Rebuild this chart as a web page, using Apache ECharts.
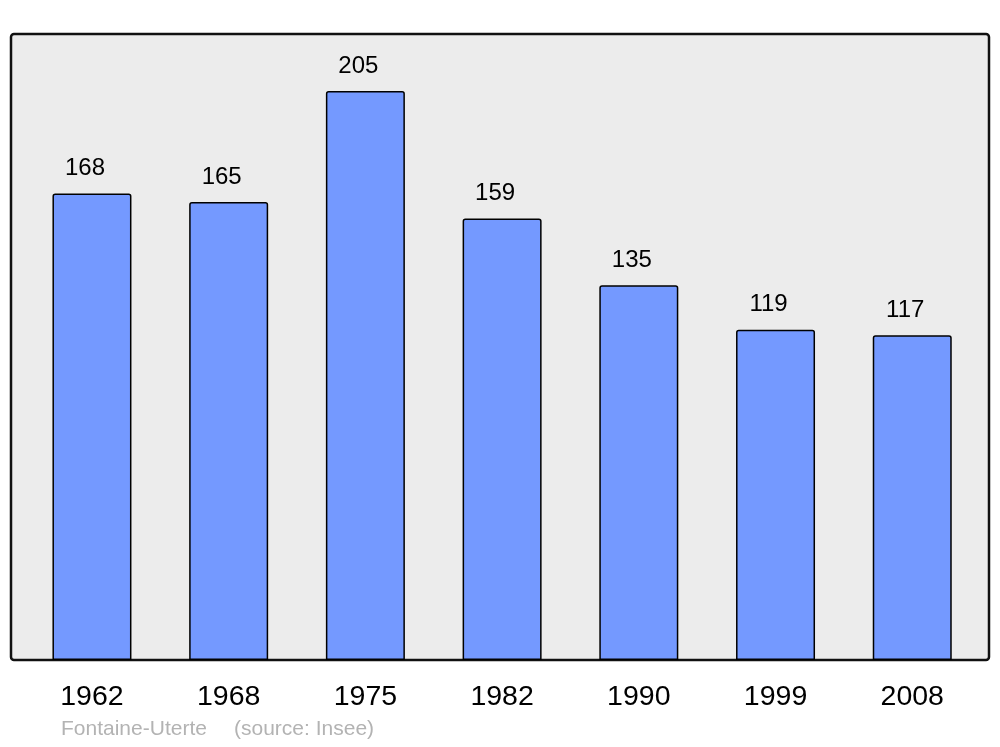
<!DOCTYPE html>
<html><head><meta charset="utf-8">
<script src="https://cdn.jsdelivr.net/npm/echarts@6/dist/echarts.min.js"></script>
<style>html,body{margin:0;padding:0;background:#fff}#c{width:1000px;height:747px}</style>
</head><body><div id="c"></div>
<script>
const years = ['1962','1968','1975','1982','1990','1999','2008'];
const population = [168,165,205,159,135,119,117];
const footerName = 'Fontaine-Uterte';
const footerSource = '(source: Insee)';

const chart = echarts.init(document.getElementById('c'), null, {renderer:'canvas'});
chart.setOption({
  animation:false,
  backgroundColor:'#ffffff',
  graphic:[
    {type:'rect', z:-10, shape:{x:11,y:34,width:978,height:626,r:3},
     style:{fill:'#ececec', stroke:'#111', lineWidth:2.5}},
    {type:'text', left:61, top:719, style:{text:footerName, fill:'#b3b3b3', font:'21px "Liberation Sans", Arial, sans-serif'}},
    {type:'text', left:234, top:719, style:{text:footerSource, fill:'#b3b3b3', font:'21px "Liberation Sans", Arial, sans-serif'}}
  ],
  grid:{left:23.6, right:19.4, top:34, bottom:87, containLabel:false},
  xAxis:{type:'category', data:years,
    axisLine:{show:false}, axisTick:{show:false},
    axisLabel:{color:'#000', fontSize:28.5, fontFamily:'"Liberation Sans", Arial, sans-serif', margin:23}},
  yAxis:{type:'value', min:0, max:225.5, show:false, splitLine:{show:false}},
  series:[{
    type:'bar', data:population, barWidth:79,
    itemStyle:{color:'#7499ff', borderColor:'#000', borderWidth:1.5, borderRadius:[2,2,0,0]},
    label:{show:true, position:'top', distance:13, offset:[-7,0], color:'#000', fontSize:24,
      fontFamily:'"Liberation Sans", Arial, sans-serif'}
  }]
});
</script></body></html>
